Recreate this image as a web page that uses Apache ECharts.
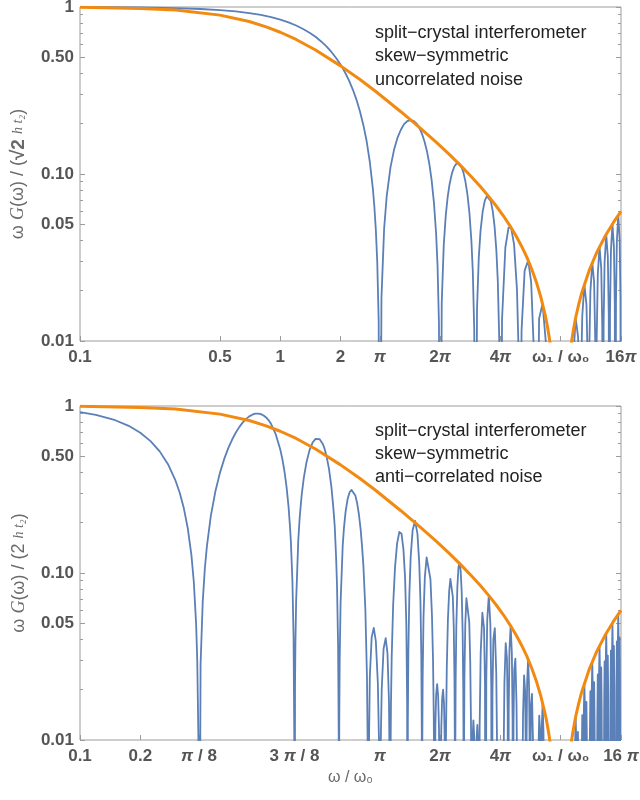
<!DOCTYPE html>
<html lang="en">
<head>
<meta charset="UTF-8"/>
<script src="https://cdn.jsdelivr.net/npm/echarts@6/dist/echarts.min.js"></script>
<title>split-crystal interferometer</title>
<style>html,body{margin:0;padding:0;background:#fff}</style>
</head>
<body>
<div id="main" style="width:640px;height:800px;"></div>
<script type="text/javascript">
var PI = Math.PI;

// tick positions and labels (x = omega / omega_0)
var topXTicks = [0.1, 0.5, 1, 2, PI, 2 * PI, 4 * PI, 8 * PI, 16 * PI];
var topXLabels = ['0.1', '0.5', '1', '2', '{i|π}', '2{i|π}', '4{i|π}', 'ω₁ / ω₀', '16{i|π}'];
var botXTicks = [0.1, 0.2, PI / 8, 3 * PI / 8, PI, 2 * PI, 4 * PI, 8 * PI, 16 * PI];
var botXLabels = ['0.1', '0.2', '{i|π} / 8', '3 {i|π} / 8', '{i|π}', '2{i|π}', '4{i|π}', 'ω₁ / ω₀', '16 {i|π}'];
var yTicks = [0.01, 0.05, 0.1, 0.5, 1];
var yLabels = ['0.01', '0.05', '0.10', '0.50', '1'];
var yMinorTicks = [0.02, 0.03, 0.04, 0.06, 0.07, 0.08, 0.09, 0.2, 0.3, 0.4, 0.6, 0.7, 0.8, 0.9];

// upper panel, uncorrelated noise (0.0001 = zero)
var topBlue = [
  [0.1,0.998],[0.2,0.993],[0.3,0.985],[0.4,0.973],[0.5,0.959],[0.6,0.941],[0.7,0.920],[0.8,0.896],[0.9,0.869],[1.0,0.840],[1.1,0.809],[1.2,0.775],[1.3,0.739],[1.4,0.702],[1.5,0.663],
  [1.6,0.622],[1.7,0.581],[1.8,0.538],[1.9,0.495],[2.0,0.452],[2.1,0.408],[2.2,0.365],[2.3,0.3215],[2.4,0.279],[2.5,0.237],[2.6,0.196],[2.7,0.157],[2.8,0.118],[2.9,0.0814],[2.95,0.0637],[3.0,0.0464],[3.05,0.0295],[3.1,0.0132],[3.1416,0.0001],
  [3.2,0.0180],[3.3,0.0470],[3.4,0.0738],[3.55,0.1096],[3.7,0.140],[3.85,0.165],[4.0,0.184],[4.15,0.199],[4.3,0.207],[4.5,0.210],[4.65,0.2073],[4.8,0.200],[4.95,0.189],[5.1,0.174],[5.25,0.1565],[5.4,0.137],[5.55,0.1148],[5.7,0.0916],[5.85,0.0676],[6.0,0.0439],[6.1,0.0281],[6.2,0.0126],[6.2832,0.0001],
  [6.4,0.0170],[6.55,0.0375],[6.7,0.0561],[6.85,0.0726],[7.0,0.0866],[7.2,0.1012],[7.4,0.111],[7.6,0.1157],[7.8,0.116],[8.0,0.1111],[8.2,0.103],[8.4,0.0904],[8.6,0.0754],[8.8,0.0584],[9.0,0.0399],[9.15,0.0258],[9.3,0.0116],[9.4248,0.0001],
  [9.6,0.0155],[9.8,0.0317],[10.0,0.0458],[10.25,0.0597],[10.5,0.0692],[10.75,0.0737],[11.0,0.0735],[11.25,0.0688],[11.5,0.0602],[11.75,0.0485],[12.0,0.0345],[12.2,0.0225],[12.4,0.0101],[12.566,0.0001],
  [12.8,0.0134],[13.3,0.0363],[13.8,0.0478],[14.2,0.0479],[14.7,0.0379],[15.2,0.0203],[15.5,0.0083],[15.708,0.0001],
  [16.022,0.0115],[16.6,0.0264],[17.3,0.0304],[17.9,0.0224],[18.536,0.0076],[18.850,0.0001],
  [19.6,0.0136],[20.4,0.0167],[21.2,0.0097],[21.991,0.0001],
  [23.56,0.0051],[25.133,0.0001],[26.7,0.0048],[28.274,0.0001],
  [29.0,0.0076],[29.85,0.0137],[30.7,0.0105],[31.416,0.0001],
  [31.73,0.0058],[32.2,0.0141],[33.0,0.0219],[33.8,0.0164],[34.244,0.0077],[34.558,0.0001],
  [34.872,0.0082],[35.35,0.0197],[36.13,0.0295],[36.9,0.0225],[37.385,0.0100],[37.699,0.0001],
  [38.013,0.0105],[38.5,0.0251],[39.27,0.0367],[40.05,0.0273],[40.527,0.0122],[40.841,0.0001],
  [41.155,0.0126],[41.63,0.0297],[42.41,0.0436],[43.2,0.0319],[43.668,0.0143],[43.982,0.0001],
  [44.296,0.0147],[44.77,0.0344],[45.55,0.0502],[46.34,0.0366],[46.81,0.0163],[47.124,0.0001],
  [47.438,0.0167],[47.91,0.0389],[48.69,0.0566],[49.48,0.0411],[49.951,0.0183],[50.265,0.0001]
];

// envelope, same in both panels
var envelope = [
  [0.1,0.995],[0.2,0.981],[0.3,0.958],[0.5,0.894],[0.7,0.819],[0.85,0.761],[1,0.706],[1.2,0.639],[1.5,0.553],[2,0.444],[2.5,0.368],[3,0.312],[4,0.236],[5,0.188],[6,0.155],
  [7,0.1305],[8,0.1115],[9,0.0963],[10,0.0838],[11,0.0732],[12,0.0641],[13,0.0562],[14,0.0491],[15,0.0428],[16,0.0371],[17,0.0319],[18,0.0270],
  [19,0.0225],[20,0.0183],[21,0.0144],[21.5,0.0125],[22,0.0106],[22.5,0.0088],[23,0.0071],[24,0.0037],[25.133,0.0001],
  [26,0.0027],[27,0.0057],[28,0.0086],[28.5,0.0100],[29,0.0114],[29.5,0.0128],[30,0.0142],[31,0.0168],[32,0.0194],[35,0.0268],[38,0.0338],[42,0.0427],[46,0.0511],[50.265,0.0597]
];

// lower panel, anti-correlated noise
var botBlue = [
  [0.1,0.9195],[0.12,0.885],[0.15,0.822],[0.175,0.761],[0.2,0.692],[0.225,0.616],[0.25,0.535],[0.275,0.448],[0.3,0.357],[0.315,0.301],[0.33,0.244],[0.345,0.186],[0.36,0.128],[0.37,0.0886],[0.38,0.0496],[0.385,0.030],[0.39,0.0105],[0.3927,0.0001],
  [0.40,0.0284],[0.41,0.0672],[0.42,0.106],[0.43,0.144],[0.45,0.220],[0.475,0.311],[0.5,0.399],[0.525,0.482],[0.55,0.559],[0.575,0.630],[0.6,0.694],[0.625,0.750],[0.65,0.798],[0.675,0.837],[0.7,0.867],[0.725,0.887],[0.75,0.900],[0.775,0.901],[0.8,0.894],[0.825,0.878],[0.85,0.854],[0.875,0.821],[0.9,0.780],[0.95,0.676],[1.0,0.549],[1.025,0.479],[1.05,0.404],[1.075,0.327],[1.1,0.249],[1.12,0.184],[1.13,0.153],[1.15,0.089],[1.165,0.0413],[1.175,0.0097],[1.1781,0.0001],
  [1.185,0.0215],[1.19,0.0371],[1.2,0.0678],[1.23,0.157],[1.25,0.215],[1.28,0.296],[1.31,0.370],[1.35,0.457],[1.40,0.544],[1.45,0.604],[1.5,0.636],[1.57,0.634],[1.63,0.593],[1.66,0.560],[1.7,0.505],[1.75,0.422],[1.8,0.328],[1.84,0.247],[1.87,0.191],[1.9,0.124],[1.92,0.0842],[1.945,0.0351],[1.958,0.0103],[1.9635,0.0001],
  [1.97,0.0121],[1.98,0.0304],[2.0,0.0657],[2.05,0.146],[2.08,0.187],[2.12,0.234],[2.17,0.278],[2.22,0.3045],[2.27,0.3145],[2.32,0.309],[2.37,0.291],[2.42,0.262],[2.47,0.224],[2.52,0.182],[2.56,0.145],[2.6,0.111],[2.66,0.0602],[2.71,0.0236],[2.735,0.0079],[2.7489,0.0001],
  [2.76,0.006],[2.8,0.024],[2.86,0.0413],[2.93,0.0469],[3.0,0.0391],[3.07,0.022],[3.11,0.0099],[3.1416,0.0001],[3.17,0.0088],[3.21,0.0202],[3.28,0.0352],[3.36,0.0407],[3.43,0.033],[3.49,0.0169],[3.52,0.0059],[3.5343,0.0001],
  [3.55,0.007],[3.57,0.0162],[3.6,0.0313],[3.66,0.0638],[3.74,0.108],[3.83,0.150],[3.93,0.176],[4.03,0.172],[4.12,0.139],[4.2,0.0932],[4.26,0.0487],[4.3,0.0163],[4.3197,0.0001],
  [4.335,0.0128],[4.36,0.0336],[4.41,0.0739],[4.48,0.126],[4.58,0.1805],[4.71,0.205],[4.84,0.172],[4.94,0.116],[5.01,0.0681],[5.06,0.032],[5.09,0.0106],[5.1051,0.0001],
  [5.12,0.0102],[5.14,0.0236],[5.19,0.0546],[5.27,0.0944],[5.38,0.124],[5.5,0.122],[5.62,0.092],[5.72,0.0556],[5.79,0.0303],[5.84,0.0139],[5.87,0.0053],[5.8905,0.0001],
  [5.91,0.0048],[5.95,0.0122],[6.0,0.0186],[6.07,0.0216],[6.14,0.0184],[6.2,0.0119],[6.24,0.0064],[6.2832,0.0001],[6.33,0.0068],[6.37,0.012],[6.43,0.0177],[6.5,0.020],[6.57,0.0165],[6.62,0.0103],[6.65,0.0052],[6.6759,0.0001],
  [6.69,0.0033],[6.72,0.0103],[6.78,0.0264],[6.87,0.0523],[6.97,0.0776],[7.07,0.0922],[7.17,0.0914],[7.27,0.072],[7.35,0.047],[7.41,0.0226],[7.44,0.0095],[7.4613,0.0001],
  [7.48,0.0085],[7.51,0.0221],[7.57,0.0486],[7.66,0.0828],[7.76,0.108],[7.85,0.115],[7.95,0.1045],[8.05,0.0774],[8.14,0.0437],[8.2,0.019],[8.23,0.0067],[8.2467,0.0001],
  [8.27,0.0092],[8.31,0.0241],[8.39,0.0493],[8.5,0.0706],[8.64,0.0721],[8.78,0.0508],[8.88,0.0296],[8.96,0.0125],[9.0,0.0051],[9.0321,0.0001],
  [9.06,0.0038],[9.13,0.0105],[9.21,0.0131],[9.29,0.0107],[9.36,0.0058],[9.4248,0.0001],[9.49,0.0057],[9.56,0.0103],[9.64,0.0123],[9.72,0.0097],[9.79,0.0034],[9.8175,0.0001],
  [9.896,0.012],[10.014,0.033],[10.21,0.0578],[10.407,0.0469],[10.524,0.0216],[10.603,0.0001],
  [10.681,0.0225],[10.799,0.0524],[10.996,0.0735],[11.192,0.0497],[11.31,0.0207],[11.388,0.0001],
  [11.467,0.019],[11.585,0.040],[11.781,0.0468],[11.977,0.0253],[12.095,0.0089],[12.174,0.0001],
  [12.959,0.0001],
  [13.038,0.0079],[13.155,0.0217],[13.352,0.038],[13.548,0.0308],[13.666,0.0142],[13.745,0.0001],
  [13.823,0.0148],[13.941,0.0345],[14.137,0.0484],[14.334,0.0327],[14.451,0.0136],[14.53,0.0001],
  [14.608,0.0125],[14.726,0.0262],[14.923,0.0307],[15.119,0.0166],[15.237,0.0058],[15.315,0.0001],
  [16.101,0.0001],
  [16.179,0.0051],[16.297,0.014],[16.493,0.0244],[16.69,0.0197],[16.808,0.0091],[16.886,0.0001],
  [16.965,0.0094],[17.082,0.0219],[17.279,0.0305],[17.475,0.0205],[17.593,0.0085],[17.672,0.0001],
  [17.75,0.0078],[17.868,0.0163],[18.064,0.0189],[18.261,0.0102],[18.378,0.0036],[18.457,0.0001],
  [19.242,0.0001],
  [19.321,0.003],[19.439,0.0081],[19.635,0.014],[19.831,0.0112],[19.949,0.0051],[20.028,0.0001],
  [20.106,0.0053],[20.224,0.0121],[20.42,0.0166],[20.617,0.011],[20.735,0.0045],[20.813,0.0001],
  [29.452,0.0001],
  [29.531,0.0038],[29.649,0.0092],[29.845,0.0137],[30.041,0.0099],[30.159,0.0043],[30.238,0.0001],
  [30.316,0.0041],[30.434,0.009],[30.63,0.0112],[30.827,0.0064],[30.945,0.0023],[31.023,0.0001],
  [31.809,0.0001],
  [31.887,0.0027],[32.005,0.0076],[32.201,0.0141],[32.398,0.012],[32.516,0.0057],[32.594,0.0001],
  [32.673,0.0062],[32.79,0.0148],[32.987,0.0219],[33.183,0.0155],[33.301,0.0067],[33.379,0.0001],
  [33.458,0.0064],[33.576,0.0138],[33.772,0.0169],[33.969,0.0096],[34.086,0.0035],[34.165,0.0001],
  [34.95,0.0001],
  [35.029,0.0038],[35.147,0.0107],[35.343,0.0196],[35.539,0.0165],[35.657,0.0078],[35.736,0.0001],
  [35.814,0.0085],[35.932,0.0201],[36.128,0.0295],[36.325,0.0208],[36.443,0.0089],[36.521,0.0001],
  [36.6,0.0084],[36.717,0.0182],[36.914,0.0222],[37.11,0.0125],[37.228,0.0045],[37.306,0.0001],
  [38.092,0.0001],
  [38.17,0.0048],[38.288,0.0136],[38.485,0.0247],[38.681,0.0208],[38.799,0.0098],[38.877,0.0001],
  [38.956,0.0106],[39.074,0.0252],[39.27,0.0367],[39.466,0.0257],[39.584,0.011],[39.663,0.0001],
  [39.741,0.0104],[39.859,0.0223],[40.055,0.0272],[40.252,0.0153],[40.37,0.0055],[40.448,0.0001],
  [41.233,0.0001],
  [41.312,0.0058],[41.43,0.0163],[41.626,0.0296],[41.823,0.0249],[41.94,0.0117],[42.019,0.0001],
  [42.097,0.0126],[42.215,0.0299],[42.412,0.0436],[42.608,0.0305],[42.726,0.013],[42.804,0.0001],
  [42.883,0.0123],[43.001,0.0263],[43.197,0.032],[43.393,0.018],[43.511,0.0064],[43.59,0.0001],
  [44.375,0.0001],
  [44.454,0.0067],[44.571,0.0189],[44.768,0.0343],[44.964,0.0288],[45.082,0.0135],[45.16,0.0001],
  [45.239,0.0146],[45.357,0.0345],[45.553,0.0502],[45.75,0.0351],[45.867,0.0149],[45.946,0.0001],
  [46.024,0.0141],[46.142,0.0302],[46.339,0.0366],[46.535,0.0205],[46.653,0.0074],[46.731,0.0001],
  [47.517,0.0001],
  [47.595,0.0076],[47.713,0.0215],[47.909,0.0389],[48.106,0.0326],[48.224,0.0153],[48.302,0.0001],
  [48.381,0.0164],[48.498,0.039],[48.695,0.0566],[48.891,0.0395],[49.009,0.0168],[49.087,0.0001],
  [49.166,0.0158],[49.284,0.0339],[49.48,0.0411],[49.677,0.023],[49.794,0.0082],[49.873,0.0001],
  [50.265,0.0001]
];

var topNote = 'split−crystal interferometer\nskew−symmetric\nuncorrelated noise';
var botNote = 'split−crystal interferometer\nskew−symmetric\nanti−correlated noise';

var blue = '#5b7fb7';
var orange = '#f28a12';
var frameColor = '#9c9c9c';
var labelColor = '#555555';
var nameColor = '#6a6a6a';
var sans = '"Liberation Sans", Arial, sans-serif';
var serif = '"Liberation Serif", serif';
var xMaxLog = Math.log10(16 * PI);

function logs(arr) {
    return arr.map(function (v) { return Math.log10(v); });
}
function pick(vals, labels) {
    var lv = logs(vals);
    return function (v) {
        for (var i = 0; i < lv.length; i++) {
            if (Math.abs(lv[i] - v) < 1e-6) return labels[i];
        }
        return '';
    };
}
var labelStyle = {
    color: labelColor, fontSize: 17, fontWeight: 'bold', fontFamily: sans,
    rich: {
        i: {color: labelColor, fontSize: 17, fontWeight: 'bold', fontStyle: 'italic', fontFamily: sans}
    }
};

function logX(grid) {
    return {type: 'log', logBase: 10, gridIndex: grid, min: 0.1, max: 16 * PI, show: false,
        axisLine: {onZero: false}};
}
function logY(grid) {
    return {type: 'log', logBase: 10, gridIndex: grid, min: 0.01, max: 1, show: false,
        axisLine: {onZero: false}};
}
function xHelper(grid, vals, labels, name) {
    var a = {
        type: 'value', gridIndex: grid, min: -1, max: xMaxLog, position: 'bottom',
        axisLine: {show: false, onZero: false}, splitLine: {show: false},
        axisTick: {show: true, inside: true, length: 5, customValues: logs(vals),
            lineStyle: {color: frameColor}},
        axisLabel: Object.assign({show: true, margin: 8, customValues: logs(vals),
            formatter: pick(vals, labels)}, labelStyle)
    };
    if (name) {
        a.name = name;
        a.nameLocation = 'middle';
        a.nameGap = 30;
        a.nameTextStyle = {color: nameColor, fontSize: 16, fontFamily: sans};
    }
    return a;
}
function yHelper(grid, pos, vals, len, withLabels, name) {
    var a = {
        type: 'value', gridIndex: grid, min: -2, max: 0, position: pos,
        axisLine: {show: false, onZero: false}, splitLine: {show: false},
        axisTick: {show: true, inside: true, length: len, customValues: logs(vals),
            lineStyle: {color: frameColor}},
        axisLabel: {show: false}
    };
    if (withLabels) {
        a.axisLabel = Object.assign({show: true, margin: 6, customValues: logs(vals),
            formatter: pick(vals, yLabels)}, labelStyle);
    }
    if (name) {
        a.name = name;
        a.nameLocation = 'middle';
        a.nameGap = 52;
        a.nameRotate = 90;
        a.nameTextStyle = {
            color: nameColor, fontSize: 18, fontFamily: sans,
            rich: {
                n: {color: nameColor, fontSize: 18, fontFamily: sans},
                g: {color: nameColor, fontSize: 18, fontFamily: serif, fontStyle: 'italic'},
                r: {color: nameColor, fontSize: 19, fontFamily: sans, fontWeight: 'bold'},
                s: {color: nameColor, fontSize: 14, fontFamily: serif, fontStyle: 'italic'}
            }
        };
    }
    return a;
}

var myChart = echarts.init(document.getElementById('main'));

var option = {
    animation: false,
    backgroundColor: '#ffffff',
    grid: [
        {left: 80, top: 7, width: 541, height: 334, show: true, borderColor: frameColor, borderWidth: 1, outerBoundsMode: 'none'},
        {left: 80, top: 406, width: 541, height: 334, show: true, borderColor: frameColor, borderWidth: 1, outerBoundsMode: 'none'}
    ],
    xAxis: [
        logX(0),
        xHelper(0, topXTicks, topXLabels),
        logX(1),
        xHelper(1, botXTicks, botXLabels, 'ω / ω₀')
    ],
    yAxis: [
        logY(0),
        yHelper(0, 'left', yTicks, 5, true, '{n|ω }{g|G}{n|(ω) / (}{r|√2}{n| }{s|h t₂}{n|)}'),
        yHelper(0, 'left', yMinorTicks, 3, false),
        yHelper(0, 'right', yTicks, 5, false),
        yHelper(0, 'right', yMinorTicks, 3, false),
        logY(1),
        yHelper(1, 'left', yTicks, 5, true, '{n|ω }{g|G}{n|(ω) / (2 }{s|h t₂}{n|)}'),
        yHelper(1, 'left', yMinorTicks, 3, false),
        yHelper(1, 'right', yTicks, 5, false),
        yHelper(1, 'right', yMinorTicks, 3, false)
    ],
    graphic: [
        {type: 'text', left: 375, top: 21, silent: true,
            style: {text: topNote, fill: '#222', font: '18px ' + sans, lineHeight: 23.5}},
        {type: 'text', left: 375, top: 420, silent: true,
            style: {text: botNote, fill: '#222', font: '18px ' + sans, lineHeight: 23}}
    ],
    series: [
        {type: 'line', xAxisIndex: 0, yAxisIndex: 0, data: topBlue, showSymbol: false, clip: true, silent: true,
            lineStyle: {color: blue, width: 1.8, join: 'round'}},
        {type: 'line', xAxisIndex: 0, yAxisIndex: 0, data: envelope, showSymbol: false, clip: true, silent: true,
            lineStyle: {color: orange, width: 3, join: 'round'}},
        {type: 'line', xAxisIndex: 2, yAxisIndex: 5, data: botBlue, showSymbol: false, clip: true, silent: true,
            lineStyle: {color: blue, width: 1.8, join: 'round'}},
        {type: 'line', xAxisIndex: 2, yAxisIndex: 5, data: envelope, showSymbol: false, clip: true, silent: true,
            lineStyle: {color: orange, width: 3, join: 'round'}}
    ]
};

myChart.setOption(option);
</script>
</body>
</html>
